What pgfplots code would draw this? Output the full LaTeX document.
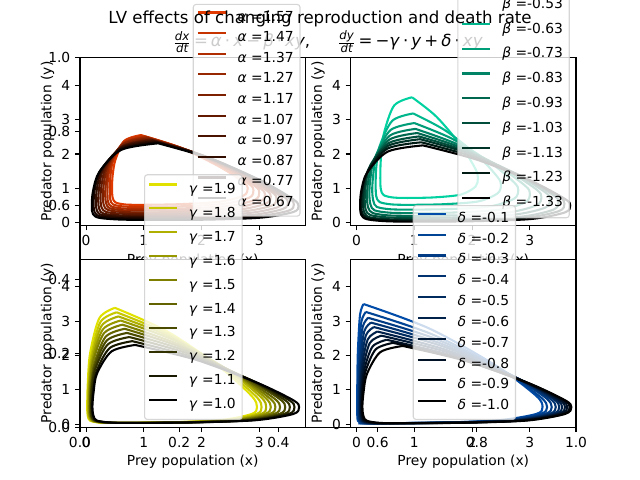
\documentclass[border=0pt]{standalone}
\usepackage{fontspec}
\setmainfont{DejaVu Sans}
\usepackage{pgfplots}
\pgfplotsset{compat=1.18}
\definecolor{ca}{RGB}{224,58,0}
\definecolor{cb}{RGB}{0,235,180}
\definecolor{cg}{RGB}{225,225,0}
\definecolor{cd}{RGB}{0,76,168}
\definecolor{lgedge}{RGB}{204,204,204}
\newcommand{\gp}{\hspace{2.2pt}}
\pgfplotsset{
  frame/.style={
    scale only axis,
    tick align=outside, tick pos=left, major tick length=3.5pt,
    every tick/.style={black, line width=0.8pt},
    axis line style={line width=0.8pt},
    tick label style={font=\fontsize{10}{12}\selectfont},
    axis background/.style={fill=white},
  },
  sub/.style={
    frame, width=2.2545in, height=1.68in,
    xmin=-0.105, xmax=3.80, ymin=-0.085, ymax=4.806,
    xtick={0,1,2,3}, xticklabels={0,1,2,3},
    ytick={0,1,2,3,4}, yticklabels={0,1,2,3,4},
    xlabel={Prey population (x)}, ylabel={Predator population (y)},
    every axis x label/.style={at={(axis description cs:0.5,-0.207)}, anchor=center, font=\fontsize{10}{12}\selectfont},
    every axis y label/.style={at={(axis description cs:-0.144,0.5)}, rotate=90, anchor=center, font=\fontsize{10}{12}\selectfont},
    every axis plot/.append style={line width=1.5pt, smooth, no markers},
    legend cell align=left,
    legend image code/.code={\draw[##1, draw opacity=1, line width=1.5pt] (0pt,3.6pt) -- (20pt,3.6pt); \path (26pt,3.6pt);},
    legend style={fill=white, fill opacity=0.8, draw opacity=0.8, text opacity=1, draw=lgedge, line width=0.8pt, rounded corners=2pt, font=\fontsize{10}{12}\selectfont, anchor=south west, inner xsep=2.6pt, inner ysep=2pt, row sep=0pt},
  },
}
\begin{document}
\begin{tikzpicture}
\useasboundingbox (0,0) rectangle (6.4in,4.8in);
% background axes
\begin{axis}[frame, at={(0.8in,0.528in)}, anchor=south west, width=4.96in, height=3.696in,
  xmin=0, xmax=1, ymin=0, ymax=1,
  xtick={0,0.2,0.4,0.6,0.8,1}, xticklabels={0.0,0.2,0.4,0.6,0.8,1.0},
  ytick={0,0.2,0.4,0.6,0.8,1}, yticklabels={0.0,0.2,0.4,0.6,0.8,1.0}]
\end{axis}
\node[anchor=base, font=\fontsize{12}{14}\selectfont] at (3.28in,4.33in)
 {$\frac{\mbox{\fontsize{8.5}{9}\selectfont\itshape dx}}{\mbox{\fontsize{8.5}{9}\selectfont\itshape dt}}$\gp=\gp\textit{α}\gp·\gp\textit{x}\gp−\gp\textit{β}\gp·\gp\textit{xy},\hspace{20pt}$\frac{\mbox{\fontsize{8.5}{9}\selectfont\itshape dy}}{\mbox{\fontsize{8.5}{9}\selectfont\itshape dt}}$\gp=\gp−\textit{γ}\gp·\gp\textit{y}\gp+\gp\textit{δ}\gp·\gp\textit{xy}};
% top left: alpha
\begin{axis}[sub, at={(0.8in,2.544in)}, anchor=south west,
  legend style={at={(0.5,0.053)}, nodes={inner xsep=2pt, inner ysep=0pt, text height=10pt, text depth=4.9pt}}]
\addplot[ca] coordinates {(0.95,2.55)(1.64,2.18)(2.32,1.62)(2.73,1.17)(2.8,1.0)(2.73,0.79)(2.32,0.61)(1.64,0.54)(0.95,0.52)(0.67,0.53)(0.51,0.59)(0.46,0.73)(0.45,1.0)(0.46,1.37)(0.51,1.84)(0.67,2.39)(0.95,2.55)};
\addlegendentry{\textit{α} =1.57}
\addplot[ca!89!black] coordinates {(0.98,2.53)(1.69,2.15)(2.40,1.58)(2.83,1.12)(2.9,0.94)(2.83,0.73)(2.40,0.55)(1.69,0.48)(0.98,0.46)(0.66,0.47)(0.47,0.53)(0.42,0.67)(0.41,0.94)(0.42,1.32)(0.47,1.81)(0.66,2.37)(0.98,2.53)};
\addlegendentry{\textit{α} =1.47}
\addplot[ca!78!black] coordinates {(1.02,2.50)(1.75,2.11)(2.49,1.53)(2.93,1.06)(3.0,0.88)(2.93,0.67)(2.49,0.49)(1.75,0.42)(1.02,0.40)(0.66,0.41)(0.44,0.47)(0.38,0.61)(0.37,0.88)(0.38,1.27)(0.44,1.76)(0.66,2.33)(1.02,2.50)};
\addlegendentry{\textit{α} =1.37}
\addplot[ca!67!black] coordinates {(1.05,2.48)(1.81,2.08)(2.57,1.48)(3.02,1.00)(3.1,0.82)(3.02,0.62)(2.57,0.43)(1.81,0.37)(1.05,0.35)(0.65,0.36)(0.41,0.42)(0.35,0.55)(0.33,0.82)(0.35,1.22)(0.41,1.72)(0.65,2.31)(1.05,2.48)};
\addlegendentry{\textit{α} =1.27}
\addplot[ca!56!black] coordinates {(1.08,2.45)(1.86,2.04)(2.65,1.44)(3.12,0.95)(3.2,0.76)(3.12,0.56)(2.65,0.38)(1.86,0.32)(1.08,0.30)(0.64,0.31)(0.38,0.37)(0.31,0.50)(0.29,0.76)(0.31,1.16)(0.38,1.68)(0.64,2.28)(1.08,2.45)};
\addlegendentry{\textit{α} =1.17}
\addplot[ca!44!black] coordinates {(1.12,2.42)(1.93,2.01)(2.74,1.39)(3.22,0.89)(3.3,0.70)(3.22,0.50)(2.74,0.33)(1.93,0.26)(1.12,0.25)(0.64,0.26)(0.35,0.31)(0.27,0.44)(0.25,0.70)(0.27,1.11)(0.35,1.64)(0.64,2.24)(1.12,2.42)};
\addlegendentry{\textit{α} =1.07}
\addplot[ca!33!black] coordinates {(1.15,2.40)(1.98,1.98)(2.82,1.34)(3.32,0.83)(3.4,0.64)(3.32,0.45)(2.82,0.28)(1.98,0.21)(1.15,0.20)(0.63,0.21)(0.31,0.26)(0.23,0.39)(0.21,0.64)(0.23,1.06)(0.31,1.60)(0.63,2.22)(1.15,2.40)};
\addlegendentry{\textit{α} =0.97}
\addplot[ca!22!black] coordinates {(1.18,2.37)(2.04,1.94)(2.90,1.30)(3.41,0.78)(3.5,0.58)(3.41,0.40)(2.90,0.23)(2.04,0.17)(1.18,0.16)(0.62,0.17)(0.28,0.22)(0.19,0.34)(0.17,0.58)(0.19,1.01)(0.28,1.55)(0.62,2.19)(1.18,2.37)};
\addlegendentry{\textit{α} =0.87}
\addplot[ca!11!black] coordinates {(1.22,2.34)(2.10,1.91)(2.98,1.25)(3.51,0.73)(3.6,0.53)(3.51,0.35)(2.98,0.19)(2.10,0.13)(1.22,0.12)(0.61,0.13)(0.25,0.18)(0.15,0.30)(0.13,0.53)(0.15,0.96)(0.25,1.52)(0.61,2.15)(1.22,2.34)};
\addlegendentry{\textit{α} =0.77}
\addplot[black] coordinates {(1.25,2.31)(2.15,1.87)(3.05,1.21)(3.59,0.68)(3.68,0.48)(3.59,0.31)(3.05,0.15)(2.15,0.09)(1.25,0.08)(0.61,0.09)(0.23,0.14)(0.12,0.25)(0.10,0.48)(0.12,0.92)(0.23,1.48)(0.61,2.12)(1.25,2.31)};
\addlegendentry{\textit{α} =0.67}
\end{axis}
% top right: beta
\begin{axis}[sub, at={(3.5055in,2.544in)}, anchor=south west,
  legend style={at={(0.4735,0.0435)}, nodes={inner xsep=2pt, inner ysep=0pt, text height=12pt, text depth=5.93pt}}]
\addlegendimage{cb, line width=1.5pt}
\addlegendentry{\textit{β} =-0.43}
\addplot[cb!89!black] coordinates {(0.96,3.65)(1.38,3.09)(1.81,2.24)(2.06,1.56)(2.1,1.3)(2.06,1.05)(1.81,0.82)(1.38,0.74)(0.96,0.72)(0.65,0.73)(0.47,0.80)(0.42,0.97)(0.41,1.3)(0.42,1.86)(0.47,2.58)(0.65,3.41)(0.96,3.65)};
\addlegendentry{\textit{β} =-0.53}
\addplot[cb!78!black] coordinates {(0.98,3.18)(1.54,2.68)(2.11,1.93)(2.44,1.33)(2.5,1.1)(2.44,0.85)(2.11,0.62)(1.54,0.54)(0.98,0.52)(0.62,0.53)(0.40,0.60)(0.34,0.77)(0.33,1.1)(0.34,1.60)(0.40,2.23)(0.62,2.97)(0.98,3.18)};
\addlegendentry{\textit{β} =-0.63}
\addplot[cb!67!black] coordinates {(1.0,2.90)(1.67,2.43)(2.33,1.73)(2.73,1.17)(2.8,0.95)(2.73,0.70)(2.33,0.48)(1.67,0.40)(1.0,0.38)(0.59,0.39)(0.35,0.46)(0.29,0.63)(0.27,0.95)(0.29,1.42)(0.35,2.01)(0.59,2.70)(1.0,2.90)};
\addlegendentry{\textit{β} =-0.73}
\addplot[cb!56!black] coordinates {(1.02,2.73)(1.75,2.28)(2.49,1.60)(2.93,1.06)(3.0,0.85)(2.93,0.60)(2.49,0.38)(1.75,0.30)(1.02,0.28)(0.58,0.29)(0.31,0.36)(0.24,0.53)(0.22,0.85)(0.24,1.30)(0.31,1.87)(0.58,2.54)(1.02,2.73)};
\addlegendentry{\textit{β} =-0.83}
\addplot[cb!44!black] coordinates {(1.05,2.61)(1.85,2.16)(2.64,1.49)(3.12,0.96)(3.2,0.75)(3.12,0.51)(2.64,0.30)(1.85,0.22)(1.05,0.20)(0.57,0.21)(0.28,0.28)(0.20,0.44)(0.18,0.75)(0.20,1.20)(0.28,1.76)(0.57,2.42)(1.05,2.61)};
\addlegendentry{\textit{β} =-0.93}
\addplot[cb!33!black] coordinates {(1.08,2.51)(1.92,2.07)(2.76,1.41)(3.27,0.88)(3.35,0.68)(3.27,0.44)(2.76,0.24)(1.92,0.16)(1.08,0.14)(0.56,0.15)(0.24,0.22)(0.16,0.37)(0.14,0.68)(0.16,1.12)(0.24,1.68)(0.56,2.32)(1.08,2.51)};
\addlegendentry{\textit{β} =-1.03}
\addplot[cb!22!black] coordinates {(1.1,2.43)(1.99,1.99)(2.88,1.33)(3.41,0.80)(3.5,0.6)(3.41,0.38)(2.88,0.18)(1.99,0.11)(1.1,0.09)(0.55,0.10)(0.22,0.16)(0.13,0.31)(0.11,0.6)(0.13,1.04)(0.22,1.60)(0.55,2.24)(1.1,2.43)};
\addlegendentry{\textit{β} =-1.13}
\addplot[cb!11!black] coordinates {(1.12,2.34)(2.04,1.91)(2.96,1.27)(3.51,0.75)(3.6,0.55)(3.51,0.34)(2.96,0.15)(2.04,0.08)(1.12,0.06)(0.54,0.07)(0.20,0.13)(0.10,0.27)(0.08,0.55)(0.10,0.98)(0.20,1.52)(0.54,2.16)(1.12,2.34)};
\addlegendentry{\textit{β} =-1.23}
\addplot[black] coordinates {(1.15,2.25)(2.09,1.83)(3.04,1.20)(3.61,0.69)(3.7,0.5)(3.61,0.30)(3.04,0.11)(2.09,0.045)(1.15,0.03)(0.54,0.04)(0.18,0.10)(0.08,0.23)(0.06,0.5)(0.08,0.92)(0.18,1.45)(0.54,2.07)(1.15,2.25)};
\addlegendentry{\textit{β} =-1.33}
\end{axis}
% bottom left: gamma
\begin{axis}[sub, at={(0.8in,0.528in)}, anchor=south west,
  legend style={at={(0.284,0.043)}, nodes={inner xsep=2pt, inner ysep=0pt, text height=11.5pt, text depth=5.78pt}}]
\addplot[cg] coordinates {(0.5,3.39)(1.41,2.70)(2.32,1.66)(2.87,0.82)(2.96,0.5)(2.87,0.30)(2.32,0.12)(1.41,0.055)(0.5,0.04)(0.23,0.05)(0.07,0.105)(0.03,0.24)(0.02,0.5)(0.03,1.19)(0.07,2.07)(0.23,3.09)(0.5,3.39)};
\addlegendentry{\textit{γ} =1.9}
\addplot[cg!89!black] coordinates {(0.53,3.26)(1.46,2.60)(2.39,1.60)(2.95,0.80)(3.04,0.5)(2.95,0.30)(2.39,0.12)(1.46,0.055)(0.53,0.04)(0.25,0.05)(0.09,0.105)(0.04,0.24)(0.03,0.5)(0.04,1.16)(0.09,2.00)(0.25,2.98)(0.53,3.26)};
\addlegendentry{\textit{γ} =1.8}
\addplot[cg!78!black] coordinates {(0.56,3.14)(1.51,2.51)(2.46,1.56)(3.03,0.79)(3.12,0.5)(3.03,0.30)(2.46,0.12)(1.51,0.055)(0.56,0.04)(0.27,0.05)(0.10,0.105)(0.05,0.24)(0.04,0.5)(0.05,1.13)(0.10,1.94)(0.27,2.87)(0.56,3.14)};
\addlegendentry{\textit{γ} =1.7}
\addplot[cg!67!black] coordinates {(0.6,3.02)(1.56,2.42)(2.53,1.51)(3.10,0.78)(3.2,0.5)(3.10,0.30)(2.53,0.12)(1.56,0.055)(0.6,0.04)(0.29,0.05)(0.11,0.105)(0.06,0.24)(0.05,0.5)(0.06,1.10)(0.11,1.87)(0.29,2.76)(0.6,3.02)};
\addlegendentry{\textit{γ} =1.6}
\addplot[cg!56!black] coordinates {(0.63,2.90)(1.61,2.32)(2.59,1.46)(3.18,0.76)(3.28,0.5)(3.18,0.30)(2.59,0.12)(1.61,0.055)(0.63,0.04)(0.31,0.05)(0.12,0.105)(0.07,0.24)(0.06,0.5)(0.07,1.07)(0.12,1.81)(0.31,2.65)(0.63,2.90)};
\addlegendentry{\textit{γ} =1.5}
\addplot[cg!44!black] coordinates {(0.67,2.78)(1.67,2.23)(2.66,1.41)(3.26,0.75)(3.36,0.5)(3.26,0.30)(2.66,0.12)(1.67,0.055)(0.67,0.04)(0.34,0.05)(0.14,0.105)(0.08,0.24)(0.07,0.5)(0.08,1.04)(0.14,1.74)(0.34,2.55)(0.67,2.78)};
\addlegendentry{\textit{γ} =1.4}
\addplot[cg!33!black] coordinates {(0.71,2.66)(1.72,2.14)(2.74,1.36)(3.35,0.74)(3.45,0.5)(3.35,0.30)(2.74,0.12)(1.72,0.055)(0.71,0.04)(0.36,0.05)(0.15,0.105)(0.09,0.24)(0.08,0.5)(0.09,1.02)(0.15,1.68)(0.36,2.44)(0.71,2.66)};
\addlegendentry{\textit{γ} =1.3}
\addplot[cg!22!black] coordinates {(0.75,2.54)(1.78,2.05)(2.81,1.32)(3.43,0.72)(3.53,0.5)(3.43,0.30)(2.81,0.12)(1.78,0.055)(0.75,0.04)(0.38,0.05)(0.16,0.105)(0.10,0.24)(0.09,0.5)(0.10,0.99)(0.16,1.61)(0.38,2.33)(0.75,2.54)};
\addlegendentry{\textit{γ} =1.2}
\addplot[cg!11!black] coordinates {(0.8,2.42)(1.84,1.96)(2.88,1.27)(3.51,0.71)(3.61,0.5)(3.51,0.30)(2.88,0.12)(1.84,0.055)(0.8,0.04)(0.41,0.05)(0.18,0.105)(0.12,0.24)(0.1,0.5)(0.12,0.96)(0.18,1.54)(0.41,2.22)(0.8,2.42)};
\addlegendentry{\textit{γ} =1.1}
\addplot[black] coordinates {(0.85,2.31)(1.90,1.88)(2.95,1.22)(3.59,0.70)(3.69,0.5)(3.59,0.30)(2.95,0.12)(1.90,0.055)(0.85,0.04)(0.44,0.05)(0.19,0.105)(0.13,0.24)(0.11,0.5)(0.13,0.93)(0.19,1.48)(0.44,2.12)(0.85,2.31)};
\addlegendentry{\textit{γ} =1.0}
\end{axis}
% bottom right: delta
\begin{axis}[sub, at={(3.5055in,0.528in)}, anchor=south west,
  legend style={at={(0.2757,0.043)}, nodes={inner xsep=2pt, inner ysep=0pt, text height=10pt, text depth=5.05pt}}]
\addplot[cd] coordinates {(0.12,3.5)(1.27,2.78)(2.42,1.70)(3.11,0.83)(3.22,0.5)(3.11,0.30)(2.42,0.11)(1.27,0.045)(0.12,0.03)(0.059,0.04)(0.022,0.10)(0.012,0.23)(0.010,0.5)(0.012,1.22)(0.022,2.13)(0.059,3.19)(0.12,3.5)};
\addlegendentry{\textit{δ} =-0.1}
\addplot[cd!89!black] coordinates {(0.16,3.27)(1.32,2.61)(2.49,1.61)(3.18,0.80)(3.30,0.5)(3.18,0.30)(2.49,0.11)(1.32,0.045)(0.16,0.03)(0.082,0.04)(0.036,0.10)(0.023,0.23)(0.02,0.5)(0.023,1.16)(0.036,2.01)(0.082,2.98)(0.16,3.27)};
\addlegendentry{\textit{δ} =-0.2}
\addplot[cd!78!black] coordinates {(0.2,3.1)(1.38,2.48)(2.56,1.54)(3.26,0.79)(3.38,0.5)(3.26,0.30)(2.56,0.11)(1.38,0.045)(0.2,0.03)(0.105,0.04)(0.049,0.10)(0.034,0.23)(0.03,0.5)(0.034,1.12)(0.049,1.91)(0.105,2.83)(0.2,3.1)};
\addlegendentry{\textit{δ} =-0.3}
\addplot[cd!67!black] coordinates {(0.25,2.96)(1.43,2.37)(2.62,1.48)(3.33,0.77)(3.45,0.5)(3.33,0.30)(2.62,0.11)(1.43,0.045)(0.25,0.03)(0.133,0.04)(0.063,0.10)(0.045,0.23)(0.04,0.5)(0.045,1.09)(0.063,1.84)(0.133,2.71)(0.25,2.96)};
\addlegendentry{\textit{δ} =-0.4}
\addplot[cd!56!black] coordinates {(0.3,2.83)(1.49,2.27)(2.68,1.43)(3.39,0.76)(3.51,0.5)(3.39,0.30)(2.68,0.11)(1.49,0.045)(0.3,0.03)(0.161,0.04)(0.078,0.10)(0.056,0.23)(0.05,0.5)(0.056,1.06)(0.078,1.77)(0.161,2.59)(0.3,2.83)};
\addlegendentry{\textit{δ} =-0.5}
\addplot[cd!44!black] coordinates {(0.36,2.7)(1.54,2.17)(2.73,1.38)(3.44,0.74)(3.56,0.5)(3.44,0.30)(2.73,0.11)(1.54,0.045)(0.36,0.03)(0.193,0.04)(0.093,0.10)(0.067,0.23)(0.06,0.5)(0.067,1.03)(0.093,1.70)(0.193,2.47)(0.36,2.7)};
\addlegendentry{\textit{δ} =-0.6}
\addplot[cd!33!black] coordinates {(0.43,2.58)(1.61,2.08)(2.79,1.33)(3.49,0.73)(3.61,0.5)(3.49,0.30)(2.79,0.11)(1.61,0.045)(0.43,0.03)(0.23,0.04)(0.11,0.10)(0.078,0.23)(0.07,0.5)(0.078,1.00)(0.11,1.63)(0.23,2.37)(0.43,2.58)};
\addlegendentry{\textit{δ} =-0.7}
\addplot[cd!22!black] coordinates {(0.52,2.46)(1.68,1.99)(2.84,1.28)(3.53,0.72)(3.65,0.5)(3.53,0.30)(2.84,0.11)(1.68,0.045)(0.52,0.03)(0.275,0.04)(0.129,0.10)(0.09,0.23)(0.08,0.5)(0.09,0.97)(0.129,1.57)(0.275,2.26)(0.52,2.46)};
\addlegendentry{\textit{δ} =-0.8}
\addplot[cd!11!black] coordinates {(0.63,2.37)(1.76,1.92)(2.90,1.25)(3.58,0.71)(3.69,0.5)(3.58,0.30)(2.90,0.11)(1.76,0.045)(0.63,0.03)(0.33,0.04)(0.15,0.10)(0.10,0.23)(0.09,0.5)(0.10,0.95)(0.15,1.52)(0.33,2.18)(0.63,2.37)};
\addlegendentry{\textit{δ} =-0.9}
\addplot[black] coordinates {(0.8,2.28)(1.88,1.85)(2.96,1.21)(3.61,0.70)(3.72,0.5)(3.61,0.30)(2.96,0.11)(1.88,0.045)(0.8,0.03)(0.41,0.04)(0.18,0.10)(0.12,0.23)(0.1,0.5)(0.12,0.93)(0.18,1.47)(0.41,2.10)(0.8,2.28)};
\addlegendentry{\textit{δ} =-1.0}
\end{axis}
\node[anchor=base, font=\fontsize{12}{14}\selectfont] at (3.2in,4.56in) {LV effects of changing reproduction and death rate};
\end{tikzpicture}
\end{document}
